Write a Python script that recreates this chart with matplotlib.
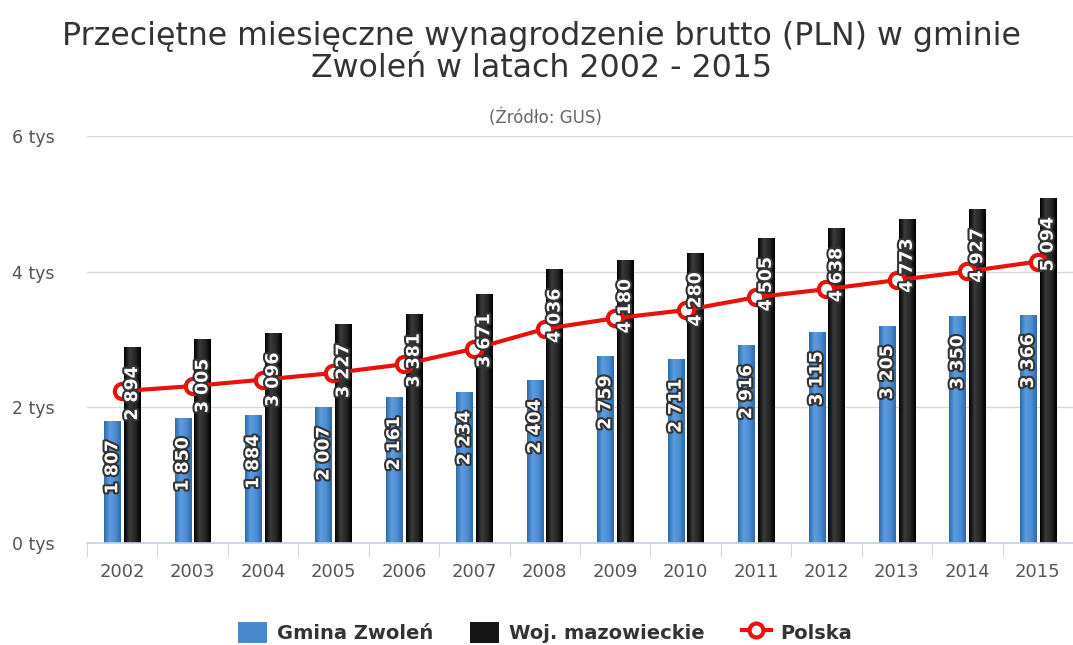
import matplotlib.pyplot as plt
import matplotlib.patheffects as pe
from matplotlib.colors import LinearSegmentedColormap
from matplotlib.lines import Line2D
from matplotlib.patches import Patch
import numpy as np

# -----------------------------------
# DATA
# -----------------------------------

years = ["2002", "2003", "2004", "2005", "2006", "2007", "2008",
         "2009", "2010", "2011", "2012", "2013", "2014", "2015"]

gmina = [1807, 1850, 1884, 2007, 2161, 2234, 2404,
         2759, 2711, 2916, 3115, 3205, 3350, 3366]

woj = [2894, 3005, 3096, 3227, 3381, 3671, 4036,
       4180, 4280, 4505, 4638, 4773, 4927, 5094]

polska = [2240, 2315, 2410, 2507, 2637, 2866, 3158,
          3315, 3435, 3625, 3744, 3877, 4004, 4151]

yticks = [0, 2000, 4000, 6000]
ytick_labels = ["0 tys", "2 tys", "4 tys", "6 tys"]

# -----------------------------------
# FIGURE
# -----------------------------------

plt.rcParams["font.family"] = "DejaVu Sans"

fig = plt.figure(figsize=(10.73, 6.45), dpi=100)
ax = fig.add_axes([0.081, 0.158, 0.919, 0.631])

x = np.arange(len(years))
bw = 0.23
off = 0.14

blue = "#4a88cc"
black = "#161616"
red = "#e8120c"

blue_cmap = LinearSegmentedColormap.from_list(
    "b", ["#2f6aa8", "#5c9de0", "#4d8dd2", "#2f6aa8"])
black_cmap = LinearSegmentedColormap.from_list(
    "k", ["#000000", "#3a3a3a", "#262626", "#000000"])

ramp = np.linspace(0, 1, 64).reshape(1, -1)


def gradient_bars(xs, vals, cmap):
    bars = ax.bar(xs, vals, width=bw, color="none", zorder=2)
    for b in bars:
        x0, y0 = b.get_x(), b.get_y()
        w, h = b.get_width(), b.get_height()
        im = ax.imshow(ramp, cmap=cmap, aspect="auto",
                       extent=[x0, x0 + w, y0, y0 + h], zorder=2)
        im.set_clip_path(b)
    return bars


gradient_bars(x - off, gmina, blue_cmap)
gradient_bars(x + off, woj, black_cmap)

ax.plot(x, polska, color=red, linewidth=3, marker="o", markersize=11,
        markerfacecolor="white", markeredgecolor=red, markeredgewidth=3,
        zorder=4)

# -----------------------------------
# BAR LABELS (inside, near top)
# -----------------------------------

outline = [pe.withStroke(linewidth=3, foreground="#333333")]


def fmt(v):
    return f"{v:,}".replace(",", " ")


for i in range(len(years)):
    for xi, v in [(x[i] - off, gmina[i]), (x[i] + off, woj[i])]:
        ax.annotate(fmt(v), (xi, v), xytext=(0, -14),
                    textcoords="offset points", rotation=90,
                    ha="center", va="top", color="white",
                    fontsize=12.5, fontweight="bold",
                    path_effects=outline, zorder=5)

# -----------------------------------
# AXES
# -----------------------------------

ax.set_xlim(-0.5, len(years) - 0.5)
ax.set_ylim(0, 6000)

ax.set_yticks(yticks)
ax.set_yticklabels(ytick_labels)
ax.grid(axis="y", color="#d8d8d8", linewidth=1, zorder=0)
ax.tick_params(axis="y", length=0, pad=54, labelsize=12.5,
               labelcolor="#555555")
for lbl in ax.get_yticklabels():
    lbl.set_horizontalalignment("left")

ax.set_xticks(x)
ax.set_xticklabels(years)
ax.set_xticks(np.arange(len(years) + 1) - 0.5, minor=True)
ax.tick_params(axis="x", which="major", length=0, pad=14,
               labelsize=13, labelcolor="#555555")
ax.tick_params(axis="x", which="minor", length=10, color="#c0d0e0")

for s in ["top", "right", "left"]:
    ax.spines[s].set_visible(False)
ax.spines["bottom"].set_color("#c0d0e0")
ax.spines["bottom"].set_linewidth(1.2)

# -----------------------------------
# TITLE
# -----------------------------------

fig.text(0.505, 0.968,
         "Przeciętne miesięczne wynagrodzenie brutto (PLN) w gminie\n"
         "Zwoleń w latach 2002 - 2015",
         ha="center", va="top", fontsize=22.8, color="#333333",
         linespacing=1.05)
fig.text(0.508, 0.818, "(Źródło: GUS)", ha="center", va="center",
         fontsize=12, color="#666666")

# -----------------------------------
# LEGEND
# -----------------------------------

handles = [
    Patch(facecolor=blue, label="Gmina Zwoleń"),
    Patch(facecolor=black, label="Woj. mazowieckie"),
    Line2D([0], [0], color=red, linewidth=3, marker="o", markersize=10,
           markerfacecolor="white", markeredgecolor=red,
           markeredgewidth=3, label="Polska"),
]

fig.legend(handles=handles, loc="center", bbox_to_anchor=(0.508, 0.02),
           ncol=3, frameon=False, prop={"weight": "bold", "size": 14},
           handlelength=1.5, handleheight=1.3, columnspacing=1.9,
           handletextpad=0.5, labelcolor="#333333")

fig.savefig("out.png", dpi=100)
